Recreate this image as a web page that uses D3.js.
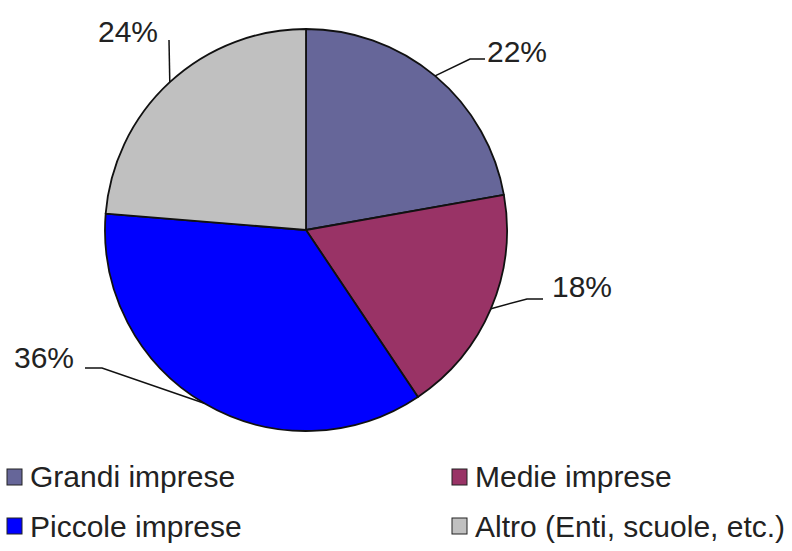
<!DOCTYPE html>
<html><head><meta charset="utf-8">
<script src="https://cdn.jsdelivr.net/npm/d3@7"></script>
<style>body{margin:0;background:#fff;} text{font-family:"Liberation Sans",Arial,sans-serif;fill:#222;}</style>
</head><body>
<svg id="c" width="792" height="551"></svg>
<script>
const categories = ["Grandi imprese", "Medie imprese", "Piccole imprese", "Altro (Enti, scuole, etc.)"];
const values = [22.2, 18.4, 35.7, 23.7];
const labels = ["22%", "18%", "36%", "24%"];
const colors = ["#666699", "#993366", "#0000FF", "#C0C0C0"];

const svg = d3.select("#c");
const cx = 306, cy = 230, r = 201;
const pie = d3.pie().sort(null).value(d => d)(values);
const arc = d3.arc().innerRadius(0).outerRadius(r);
const g = svg.append("g").attr("transform", `translate(${cx},${cy})`);
g.selectAll("path").data(pie).join("path")
  .attr("d", arc).attr("fill", (d,i) => colors[i])
  .attr("stroke", "#111").attr("stroke-width", 1.8).attr("stroke-linejoin","round");

// label layout (text anchor point, elbow point)
const labelPos = [
  {tx: 487, ty: 62, anchor: "start", elbow: [470, 59], end: [485, 59]},
  {tx: 552, ty: 297, anchor: "start", elbow: [527, 299], end: [543, 299]},
  {tx: 74, ty: 368, anchor: "end", elbow: [102, 368], end: [85, 368]},
  {tx: 128, ty: 42, anchor: "middle", elbow: [169, 40], end: [169, 40]}
];
pie.forEach((d, i) => {
  const a = (d.startAngle + d.endAngle) / 2;
  const px = cx + r * Math.sin(a), py = cy - r * Math.cos(a);
  const L = labelPos[i];
  svg.append("polyline")
    .attr("points", [[px, py], L.elbow, L.end].map(p => p.join(",")).join(" "))
    .attr("fill", "none").attr("stroke", "#111").attr("stroke-width", 1.5);
  svg.append("text").attr("x", L.tx).attr("y", L.ty).attr("text-anchor", L.anchor)
    .attr("font-size", 30).text(labels[i]);
});

// legend
const legPos = [[7, 469, 487], [452, 469, 487], [7, 518, 537], [452, 518, 537]];
categories.forEach((c, i) => {
  const [x, y, by] = legPos[i];
  svg.append("rect").attr("x", x).attr("y", y).attr("width", 15).attr("height", 16)
    .attr("fill", colors[i]).attr("stroke", "#222").attr("stroke-width", 1);
  svg.append("text").attr("x", x + 23).attr("y", by).attr("font-size", 30).text(c);
});
</script>
</body></html>
